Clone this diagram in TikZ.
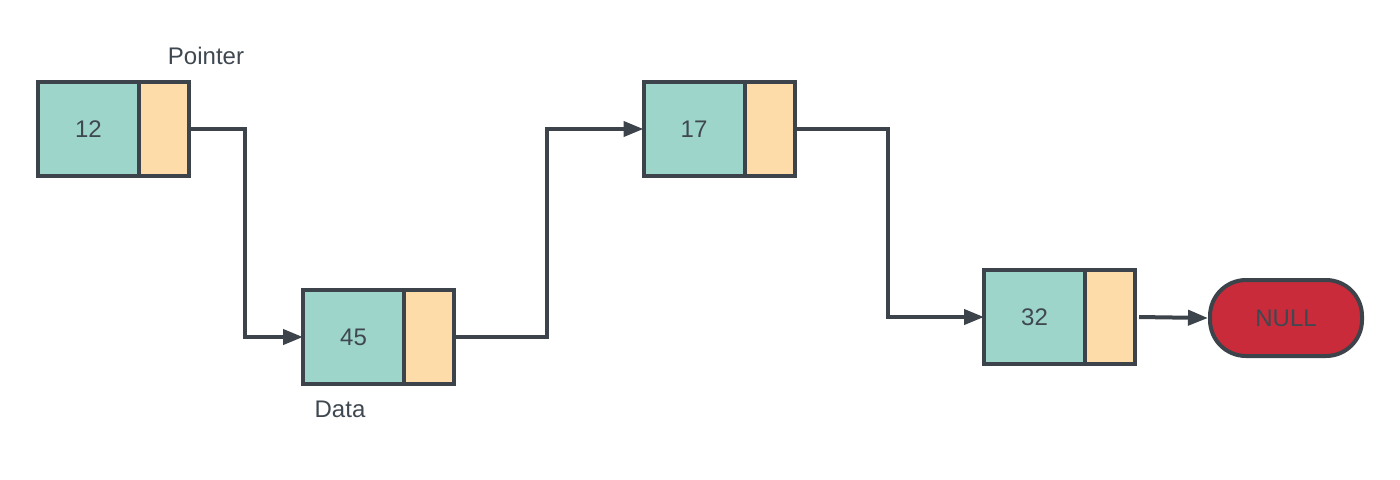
\documentclass[tikz,border=0pt]{standalone}
\usepackage{fontspec}
\setmainfont{Liberation Sans}
\usetikzlibrary{arrows.meta,positioning}
\definecolor{teal}{HTML}{9DD5CA}
\definecolor{peach}{HTML}{FDDCAA}
\definecolor{edge}{HTML}{3D434A}
\definecolor{nullred}{HTML}{C92B3A}
\definecolor{txt}{HTML}{3F4850}
\tikzset{
  databox/.style={draw=edge, fill=teal, line width=2pt, outer sep=0pt, minimum width=50.5pt, minimum height=47pt, inner sep=0pt, font=\fontsize{12}{14}\selectfont, text=txt},
  ptrbox/.style={draw=edge, fill=peach, line width=2pt, outer sep=0pt, minimum width=25pt, minimum height=47pt, inner sep=0pt, anchor=west},
  link/.style={draw=edge, line width=2pt, -{Triangle[length=10pt,width=7.5pt]}},
  nullbox/.style={draw=edge, fill=nullred, line width=2pt, minimum width=76pt, minimum height=38pt, rounded corners=18pt, inner sep=0pt, font=\fontsize{12}{14}\selectfont, text=txt},
  lbl/.style={font=\fontsize{12}{14}\selectfont, text=txt}
}
\begin{document}
\begin{tikzpicture}[x=0.5pt,y=-0.5pt]
\useasboundingbox (0,0) rectangle (1400,479);
\node[databox] (d1) at (88.5,129) {12};
\node[ptrbox] (p1) at (d1.east) {};
\node[databox] (d2) at (353.5,337) {45};
\node[ptrbox] (p2) at (d2.east) {};
\node[databox] (d3) at (694,129) {17};
\node[ptrbox] (p3) at (d3.east) {};
\node[databox] (d4) at (1034.5,317) {32};
\node[ptrbox] (p4) at (d4.east) {};
\node[nullbox] (n) at (1286,318) {NULL};
\node[lbl] (lp) at (206,56) {Pointer};
\node[lbl] (ld) at (340,409) {Data};
\draw[link] (p1.east) -- ++(56,0) |- (d2.west);
\draw[link] (p2.east) -- ++(93,0) |- (d3.west);
\draw[link] (p3.east) -- ++(93,0) |- (d4.west);
\draw[link] ([xshift=2pt]p4.east) -- (n.west);
\end{tikzpicture}
\end{document}
